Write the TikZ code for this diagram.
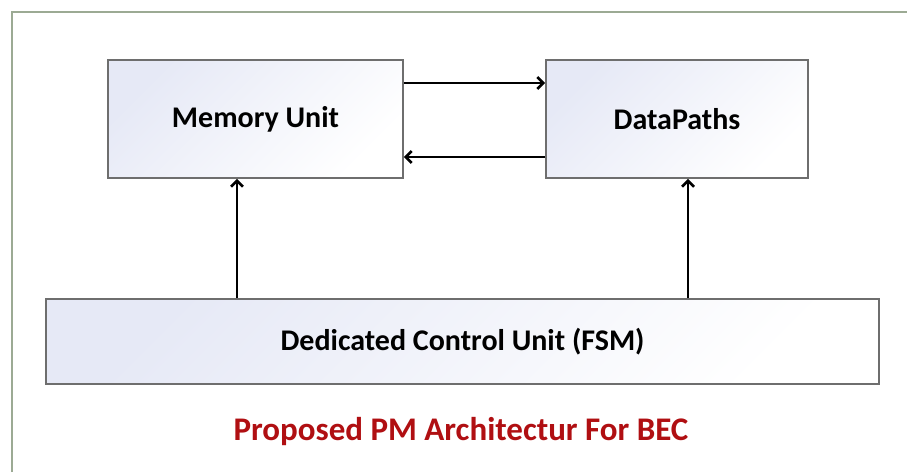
\documentclass[tikz,border=0pt]{standalone}
\usepackage{fontspec}
\setmainfont{Carlito}
\usetikzlibrary{arrows.meta}
\definecolor{framegreen}{HTML}{9CAA94}
\definecolor{boxedge}{HTML}{6E6E6E}
\definecolor{boxtint}{HTML}{E6E9F6}
\definecolor{titlered}{HTML}{B00F12}
\tikzset{
  unitbox/.style={draw=boxedge, line width=1.8pt, shading=axis,
    top color=boxtint, bottom color=white, shading angle=45,
    font=\bfseries\fontsize{30}{34}\selectfont, text=black},
  flow/.style={line width=2.6pt, -{Straight Barb[length=6pt,width=12pt,line width=2.6pt]}}
}
\begin{document}
\begin{tikzpicture}[x=1pt,y=-1pt]
  \useasboundingbox (0,0) rectangle (907,472);
  \fill[white] (0,0) rectangle (907,472);
  % outer frame (top and left edges visible)
  \draw[framegreen, line width=2.2pt] (12,472) -- (12,12) -- (907,12);

  \node[unitbox, minimum width=295pt, minimum height=118pt, inner sep=0pt] (mem) at (255.5,119) {Memory Unit};
  \node[unitbox, minimum width=262pt, minimum height=118pt, inner sep=0pt] (dp) at (677,119) {DataPaths};
  \node[unitbox, minimum width=833pt, minimum height=85pt, inner sep=0pt] (fsm) at (462.5,341.5) {Dedicated Control Unit (FSM)};

  \node[font=\bfseries\fontsize{33}{38}\selectfont, text=titlered] (title) at (461,432) {Proposed PM Architectur For BEC};

  \draw[flow] (mem.east |- 0,83) -- (dp.west |- 0,83);
  \draw[flow] (dp.west |- 0,157) -- (mem.east |- 0,157);
  \draw[flow] (fsm.north -| 237,0) -- (mem.south -| 237,0);
  \draw[flow] (fsm.north -| 688,0) -- (dp.south -| 688,0);
\end{tikzpicture}
\end{document}
